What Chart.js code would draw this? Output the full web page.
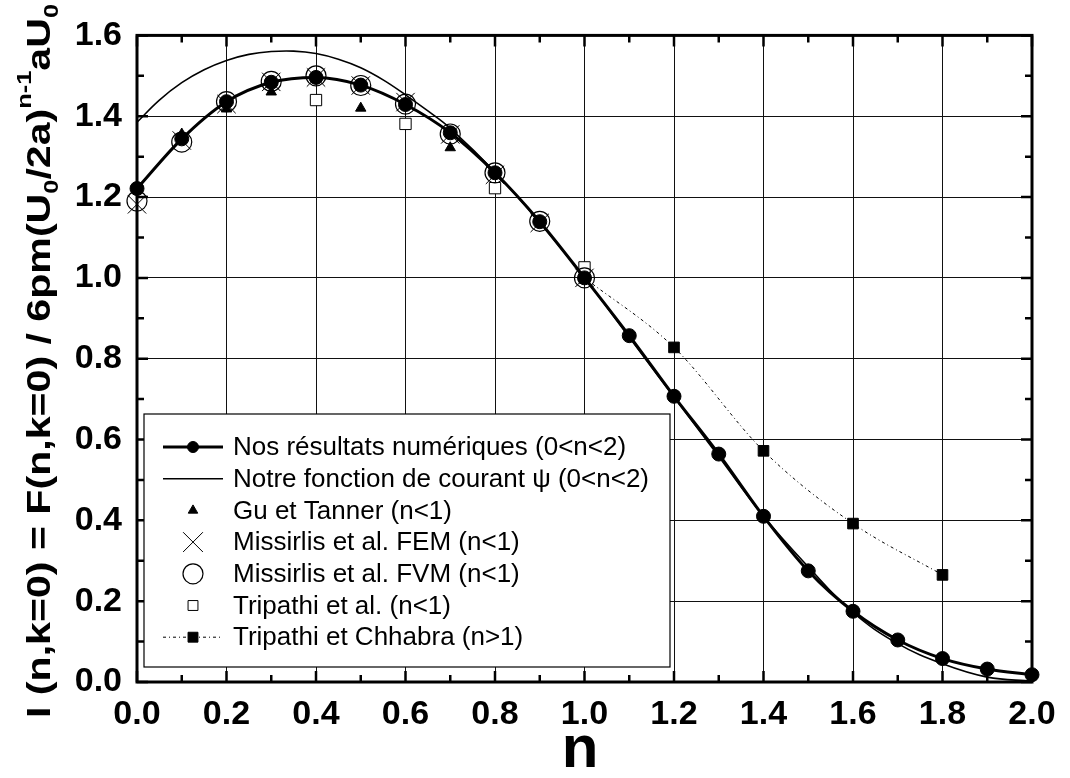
<!DOCTYPE html>
<html>
<head>
<meta charset="utf-8">
<script src="https://cdn.jsdelivr.net/npm/chart.js@4.4.0/dist/chart.umd.min.js"></script>
<style>
  body { margin: 0; background: #fff; }
  canvas { display: block; }
</style>
</head>
<body>
<canvas id="drag" width="1070" height="778"></canvas>
<script>
// numerical results (0<n<2), thick line with filled dots
const nNos = [0, 0.1, 0.2, 0.3, 0.4, 0.5, 0.6, 0.7, 0.8, 0.9, 1.0, 1.1, 1.2, 1.3, 1.4, 1.5, 1.6, 1.7, 1.8, 1.9, 2.0]
const iNos = [1.221, 1.344, 1.436, 1.484, 1.496, 1.477, 1.429, 1.359, 1.26, 1.139, 1.0, 0.857, 0.707, 0.564, 0.41, 0.275, 0.175, 0.104, 0.058, 0.032, 0.018]

// stream function curve, thin line
const nPsi = [0, 0.05, 0.1, 0.15, 0.2, 0.25, 0.3, 0.35, 0.4, 0.45, 0.5, 0.55, 0.6, 0.65, 0.7, 0.8, 0.9, 1.0, 1.1, 1.2, 1.3, 1.4, 1.5, 1.6, 1.7, 1.8, 1.9, 2.0]
const iPsi = [1.385, 1.44, 1.483, 1.515, 1.538, 1.553, 1.56, 1.561, 1.555, 1.541, 1.52, 1.49, 1.453, 1.413, 1.37, 1.262, 1.137, 1.0, 0.853, 0.705, 0.558, 0.41, 0.285, 0.172, 0.095, 0.045, 0.012, 0.002]

const nGu = [0.1, 0.2, 0.3, 0.5, 0.7]
const iGu = [1.356, 1.418, 1.46, 1.42, 1.322]

const nFem = [0, 0.1, 0.2, 0.3, 0.4, 0.5, 0.6, 0.7, 0.8, 0.9, 1.0]
const iFem = [1.182, 1.34, 1.43, 1.485, 1.496, 1.476, 1.435, 1.355, 1.255, 1.136, 1.0]

const nFvm = [0, 0.1, 0.2, 0.3, 0.4, 0.5, 0.6, 0.7, 0.8, 0.9, 1.0]
const iFvm = [1.19, 1.336, 1.436, 1.486, 1.5, 1.476, 1.43, 1.356, 1.26, 1.14, 1.0]

const nTri = [0.4, 0.6, 0.8, 1.0]
const iTri = [1.44, 1.381, 1.222, 1.026]

const nChh = [1.0, 1.2, 1.4, 1.6, 1.8]
const iChh = [1.0, 0.828, 0.572, 0.392, 0.265]

const seriesNames = [
    'Nos résultats numériques (0<n<2)',
    'Notre fonction de courant ψ (0<n<2)',
    'Gu et Tanner (n<1)',
    'Missirlis et al. FEM (n<1)',
    'Missirlis et al. FVM (n<1)',
    'Tripathi et al. (n<1)',
    'Tripathi et Chhabra (n>1)'
]

const xTicks = [0, 0.2, 0.4, 0.6, 0.8, 1.0, 1.2, 1.4, 1.6, 1.8, 2.0]
const yTicks = [0, 0.2, 0.4, 0.6, 0.8, 1.0, 1.2, 1.4, 1.6]

function pairs(xs, ys) {
    return xs.map((x, i) => ({ x: x, y: ys[i] }))
}

const tickFont = { family: 'Liberation Sans, Arial, sans-serif', size: 34, weight: 'bold' }

// inside tick marks on all four sides, plus the heavy frame
const framePlugin = {
    id: 'frame',
    afterDatasetsDraw(chart) {
        const { ctx, chartArea: a, scales } = chart
        ctx.save()
        ctx.strokeStyle = '#000'
        ctx.lineWidth = 2.5
        ctx.beginPath()
        for (let v = 0; v <= 20; v++) {
            const x = scales.x.getPixelForValue(v / 10)
            const len = v % 2 === 0 ? 11 : 7
            ctx.moveTo(x, a.bottom); ctx.lineTo(x, a.bottom - len)
            ctx.moveTo(x, a.top); ctx.lineTo(x, a.top + len)
        }
        for (let v = 0; v <= 16; v++) {
            const y = scales.y.getPixelForValue(v / 10)
            const len = v % 2 === 0 ? 11 : 7
            ctx.moveTo(a.left, y); ctx.lineTo(a.left + len, y)
            ctx.moveTo(a.right, y); ctx.lineTo(a.right - len, y)
        }
        ctx.stroke()
        ctx.lineWidth = 3
        ctx.strokeRect(a.left, a.top, a.right - a.left, a.bottom - a.top)
        ctx.restore()
    }
}

// legend box inside the plot
const legendPlugin = {
    id: 'boxLegend',
    afterDraw(chart) {
        const ctx = chart.ctx
        const box = { l: 144, t: 414, r: 670, b: 667 }
        ctx.save()
        ctx.fillStyle = '#fff'
        ctx.fillRect(box.l, box.t, box.r - box.l, box.b - box.t)
        ctx.strokeStyle = '#000'
        ctx.lineWidth = 1.2
        ctx.strokeRect(box.l, box.t, box.r - box.l, box.b - box.t)

        const sx = 193
        ctx.font = '26px "Liberation Sans", Arial, sans-serif'
        ctx.textBaseline = 'middle'
        chart.data.datasets.forEach((ds, i) => {
            const y = 447 + i * 31.7
            ctx.save()
            ctx.strokeStyle = '#000'
            if (ds.showLine !== false) {
                ctx.lineWidth = ds.borderWidth
                ctx.setLineDash(ds.borderDash || [])
                ctx.beginPath()
                ctx.moveTo(163, y)
                ctx.lineTo(223, y)
                ctx.stroke()
                ctx.setLineDash([])
            }
            if (ds.pointRadius > 0) {
                ctx.fillStyle = ds.pointBackgroundColor
                ctx.strokeStyle = ds.pointBorderColor
                ctx.lineWidth = ds.pointBorderWidth
                Chart.helpers.drawPoint(ctx, {
                    pointStyle: ds.pointStyle,
                    radius: ds.legendRadius || ds.pointRadius,
                    rotation: 0,
                    borderWidth: ds.pointBorderWidth
                }, sx, y)
            }
            ctx.restore()
            ctx.fillStyle = '#000'
            ctx.fillText(seriesNames[i], 233, y + 1)
        })
        ctx.restore()
    }
}

// axis titles with sub- and superscripts
const titlePlugin = {
    id: 'axisTitles',
    afterDraw(chart) {
        const ctx = chart.ctx
        ctx.save()
        ctx.fillStyle = '#000'
        ctx.textBaseline = 'alphabetic'

        ctx.save()
        ctx.font = 'bold 60px "Liberation Sans", Arial, sans-serif'
        ctx.textAlign = 'center'
        ctx.fillText('n', 580, 767)
        ctx.restore()

        const parts = [
            ['I (n,k=0) = F(n,k=0) / 6pm(U', 0],
            ['0', 1],
            ['/2a)', 0],
            ['n-1', -1],
            ['aU', 0],
            ['0', 1]
        ]
        const big = 'bold 34px "Liberation Sans", Arial, sans-serif'
        const small = 'bold 21px "Liberation Sans", Arial, sans-serif'
        let total = 0
        parts.forEach(p => {
            ctx.font = p[1] === 0 ? big : small
            total += ctx.measureText(p[0]).width
        })
        const length = 714
        ctx.translate(50, 718)
        ctx.rotate(-Math.PI / 2)
        ctx.scale(length / total, 1)
        let pos = 0
        parts.forEach(p => {
            ctx.font = p[1] === 0 ? big : small
            const dy = p[1] === 1 ? 8 : (p[1] === -1 ? -19 : 0)
            ctx.fillText(p[0], pos, dy)
            pos += ctx.measureText(p[0]).width
        })
        ctx.restore()
    }
}

const ctx = document.getElementById('drag')

new Chart(ctx, {
    type: 'scatter',
    data: {
        datasets: [
            {
                label: seriesNames[0],
                data: pairs(nNos, iNos),
                showLine: true,
                borderColor: '#000',
                borderWidth: 3,
                cubicInterpolationMode: 'monotone',
                pointStyle: 'circle',
                pointRadius: 7,
                legendRadius: 5.5,
                pointBackgroundColor: '#000',
                pointBorderColor: '#000',
                pointBorderWidth: 1
            },
            {
                label: seriesNames[1],
                data: pairs(nPsi, iPsi),
                showLine: true,
                borderColor: '#000',
                borderWidth: 1.6,
                tension: 0.4,
                pointRadius: 0
            },
            {
                label: seriesNames[2],
                data: pairs(nGu, iGu),
                showLine: false,
                pointStyle: 'triangle',
                pointRadius: 6,
                legendRadius: 5.5,
                pointBackgroundColor: '#000',
                pointBorderColor: '#000',
                pointBorderWidth: 1
            },
            {
                label: seriesNames[3],
                data: pairs(nFem, iFem),
                showLine: false,
                pointStyle: 'crossRot',
                pointRadius: 13,
                legendRadius: 14,
                pointBackgroundColor: 'rgba(0,0,0,0)',
                pointBorderColor: '#000',
                pointBorderWidth: 1
            },
            {
                label: seriesNames[4],
                data: pairs(nFvm, iFvm),
                showLine: false,
                pointStyle: 'circle',
                pointRadius: 10,
                legendRadius: 10,
                pointBackgroundColor: 'rgba(0,0,0,0)',
                pointBorderColor: '#000',
                pointBorderWidth: 1.2
            },
            {
                label: seriesNames[5],
                data: pairs(nTri, iTri),
                showLine: false,
                pointStyle: 'rect',
                pointRadius: 8,
                legendRadius: 7,
                pointBackgroundColor: '#fff',
                pointBorderColor: '#000',
                pointBorderWidth: 1
            },
            {
                label: seriesNames[6],
                data: pairs(nChh, iChh),
                showLine: true,
                borderColor: '#000',
                borderWidth: 1,
                borderDash: [3, 3, 1, 3],
                cubicInterpolationMode: 'monotone',
                pointStyle: 'rect',
                pointRadius: 7.5,
                legendRadius: 7,
                pointBackgroundColor: '#000',
                pointBorderColor: '#000',
                pointBorderWidth: 1
            }
        ]
    },
    options: {
        responsive: false,
        animation: false,
        clip: false,
        layout: { padding: { left: 0, top: 21, right: 38, bottom: 0 } },
        plugins: {
            legend: { display: false },
            tooltip: { enabled: false }
        },
        scales: {
            x: {
                type: 'linear',
                min: 0,
                max: 2,
                afterBuildTicks: s => { s.ticks = xTicks.map(v => ({ value: v })) },
                afterFit: s => { s.height = 96 },
                ticks: {
                    color: '#000',
                    font: tickFont,
                    padding: 12,
                    maxRotation: 0,
                    autoSkip: false,
                    callback: v => v.toFixed(1)
                },
                grid: { color: '#111', lineWidth: 1, drawTicks: false },
                border: { display: false }
            },
            y: {
                type: 'linear',
                min: 0,
                max: 1.6,
                afterBuildTicks: s => { s.ticks = yTicks.map(v => ({ value: v })) },
                afterFit: s => { s.width = 137 },
                ticks: {
                    color: '#000',
                    font: tickFont,
                    padding: 15,
                    autoSkip: false,
                    callback: v => v.toFixed(1)
                },
                grid: { color: '#111', lineWidth: 1, drawTicks: false },
                border: { display: false }
            }
        }
    },
    plugins: [framePlugin, legendPlugin, titlePlugin]
})
</script>
</body>
</html>
